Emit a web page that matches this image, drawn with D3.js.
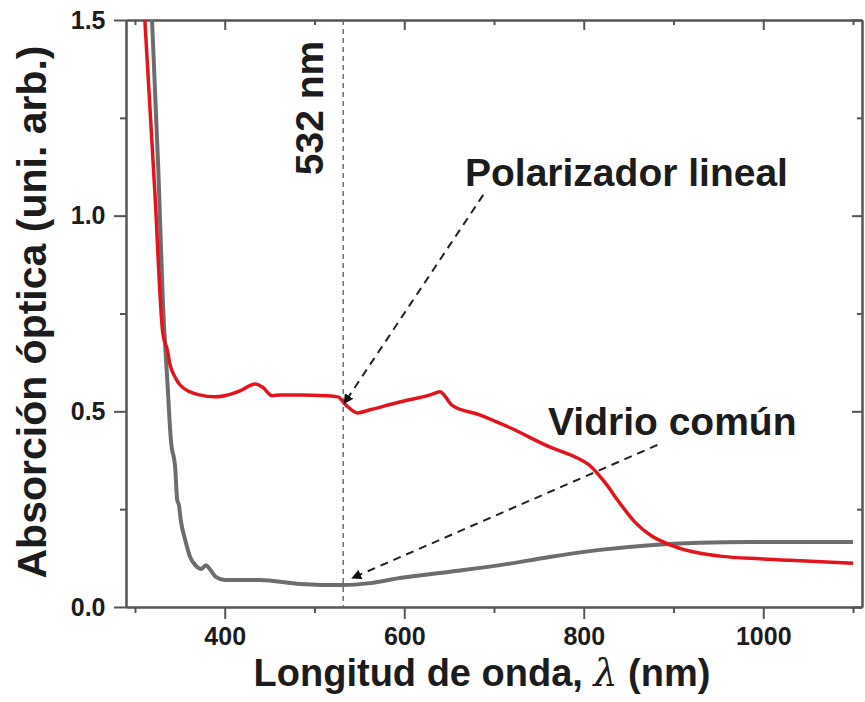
<!DOCTYPE html>
<html>
<head>
<meta charset="utf-8">
<script src="https://cdn.jsdelivr.net/npm/d3@7"></script>
<style>
  body { margin: 0; background: #fff; }
  text { font-family: "Liberation Sans", Arial, sans-serif; font-weight: bold; fill: #1c1c1c; }
</style>
</head>
<body>
<div id="chart"></div>
<script>
var svgWidth = 865;
var svgHeight = 702;

var margin = { top: 20, right: 3, bottom: 95, left: 126 };
var width = svgWidth - margin.left - margin.right;
var height = svgHeight - margin.top - margin.bottom;

// polarizer spectrum (wavelength nm, absorbance)
var polWave = [311, 322, 331, 336, 339, 345, 350, 361, 372, 389, 400, 417, 434, 442, 453, 462, 484, 512, 526, 535, 548, 562, 595, 629, 640, 645, 653, 684, 718, 762, 790, 807, 824, 840, 857, 874, 896, 918, 952, 996, 1041, 1100];
var polAbs = [1.50, 1.066, 0.70, 0.657, 0.62, 0.586, 0.568, 0.55, 0.542, 0.537, 0.54, 0.552, 0.57, 0.562, 0.54, 0.542, 0.542, 0.54, 0.537, 0.516, 0.496, 0.504, 0.524, 0.542, 0.55, 0.54, 0.516, 0.491, 0.458, 0.409, 0.384, 0.361, 0.317, 0.266, 0.217, 0.184, 0.159, 0.143, 0.130, 0.123, 0.118, 0.112];

// common glass spectrum
var glassWave = [319, 326, 331, 336, 340, 345, 347, 349, 351, 356, 361, 368, 374, 379, 384, 390, 400, 439, 484, 532, 562, 595, 651, 707, 762, 818, 874, 929, 985, 1100];
var glassAbs = [1.50, 1.118, 0.785, 0.58, 0.427, 0.35, 0.274, 0.26, 0.222, 0.171, 0.13, 0.105, 0.097, 0.107, 0.095, 0.077, 0.069, 0.069, 0.059, 0.056, 0.061, 0.074, 0.09, 0.107, 0.128, 0.146, 0.158, 0.164, 0.166, 0.166];

var xMajor = [400, 600, 800, 1000];
var xMinor = [300, 500, 700, 900, 1100];
var yMajor = [0.0, 0.5, 1.0, 1.5];
var yMinor = [0.25, 0.75, 1.25];

var laserLine = 532;

var svg = d3.select("#chart")
  .append("svg")
  .attr("width", svgWidth)
  .attr("height", svgHeight);

var chartGroup = svg.append("g")
  .attr("transform", `translate(${margin.left}, ${margin.top})`);

var xScale = d3.scaleLinear().domain([290, 1110]).range([0, width]);
var yScale = d3.scaleLinear().domain([0, 1.5]).range([height, 0]);

svg.append("defs").append("clipPath")
  .attr("id", "plotClip")
  .append("rect")
  .attr("width", width)
  .attr("height", height);

// arrow head for the dashed pointers
svg.select("defs").append("marker")
  .attr("id", "head")
  .attr("viewBox", "0 0 10 10")
  .attr("refX", 9)
  .attr("refY", 5)
  .attr("markerWidth", 5)
  .attr("markerHeight", 5)
  .attr("markerUnits", "strokeWidth")
  .attr("orient", "auto")
  .append("path")
  .attr("d", "M0,0 L10,5 L0,10 z")
  .attr("fill", "#111");

var axisColor = "#555";

// frame: bottom/left ticks outward, top/right ticks inward
function styleAxis(g) {
  g.selectAll("path").attr("stroke", axisColor).attr("stroke-width", 2);
  g.selectAll("line").attr("stroke", axisColor).attr("stroke-width", 2);
  g.selectAll("text").attr("font-size", 25).attr("fill", "#1c1c1c");
}

var bottomMajor = chartGroup.append("g")
  .attr("transform", `translate(0, ${height})`)
  .call(d3.axisBottom(xScale).tickValues(xMajor).tickSize(12).tickSizeOuter(0).tickPadding(8).tickFormat(d3.format("d")));
var bottomMinor = chartGroup.append("g")
  .attr("transform", `translate(0, ${height})`)
  .call(d3.axisBottom(xScale).tickValues(xMinor).tickSize(6).tickSizeOuter(0).tickFormat(""));
var topMajor = chartGroup.append("g")
  .call(d3.axisBottom(xScale).tickValues(xMajor).tickSize(10).tickSizeOuter(0).tickFormat(""));
var topMinor = chartGroup.append("g")
  .call(d3.axisBottom(xScale).tickValues(xMinor).tickSize(5).tickSizeOuter(0).tickFormat(""));

var leftMajor = chartGroup.append("g")
  .call(d3.axisLeft(yScale).tickValues(yMajor).tickSize(12).tickSizeOuter(0).tickPadding(6).tickFormat(d3.format(".1f")));
var leftMinor = chartGroup.append("g")
  .call(d3.axisLeft(yScale).tickValues(yMinor).tickSize(6).tickSizeOuter(0).tickFormat(""));
var rightMajor = chartGroup.append("g")
  .attr("transform", `translate(${width}, 0)`)
  .call(d3.axisLeft(yScale).tickValues(yMajor).tickSize(10).tickSizeOuter(0).tickFormat(""));
var rightMinor = chartGroup.append("g")
  .attr("transform", `translate(${width}, 0)`)
  .call(d3.axisLeft(yScale).tickValues(yMinor).tickSize(5).tickSizeOuter(0).tickFormat(""));

[bottomMajor, bottomMinor, topMajor, topMinor, leftMajor, leftMinor, rightMajor, rightMinor].forEach(styleAxis);
// inner ticks on top/right point into the plot
topMajor.selectAll(".tick line").attr("y2", 10);
rightMajor.selectAll(".tick line").attr("x2", -10);
rightMinor.selectAll(".tick line").attr("x2", -5);
leftMajor.selectAll(".tick text").attr("dx", "-0.1em");

// 532 nm reference line
chartGroup.append("line")
  .attr("x1", xScale(laserLine))
  .attr("x2", xScale(laserLine))
  .attr("y1", 0)
  .attr("y2", height)
  .attr("stroke", "#666")
  .attr("stroke-width", 1.4)
  .attr("stroke-dasharray", "5,4");

var line = d3.line()
  .x(d => xScale(d[0]))
  .y(d => yScale(d[1]))
  .curve(d3.curveMonotoneX);

var curves = chartGroup.append("g").attr("clip-path", "url(#plotClip)");

curves.append("path")
  .datum(d3.zip(glassWave, glassAbs))
  .attr("d", line)
  .attr("fill", "none")
  .attr("stroke", "#6d6d6d")
  .attr("stroke-width", 4);

curves.append("path")
  .datum(d3.zip(polWave, polAbs))
  .attr("d", line)
  .attr("fill", "none")
  .attr("stroke", "#e3141d")
  .attr("stroke-width", 3.5);

// dashed pointers from the labels to the curves
var pointers = [
  { from: [688, 1.053], to: [533, 0.52] },
  { from: [882, 0.414], to: [542, 0.074] }
];

chartGroup.selectAll(".pointer")
  .data(pointers)
  .enter()
  .append("line")
  .attr("class", "pointer")
  .attr("x1", d => xScale(d.from[0]))
  .attr("y1", d => yScale(d.from[1]))
  .attr("x2", d => xScale(d.to[0]))
  .attr("y2", d => yScale(d.to[1]))
  .attr("stroke", "#222")
  .attr("stroke-width", 2)
  .attr("stroke-dasharray", "8,6")
  .attr("marker-end", "url(#head)");

chartGroup.append("text")
  .attr("transform", `translate(${xScale(laserLine) - 20}, 88) rotate(-90)`)
  .attr("text-anchor", "middle")
  .attr("font-size", 39)
  .text("532 nm");

chartGroup.append("text")
  .attr("x", 339)
  .attr("y", 166)
  .attr("font-size", 39)
  .text("Polarizador lineal");

chartGroup.append("text")
  .attr("x", 422)
  .attr("y", 415)
  .attr("font-size", 39)
  .text("Vidrio común");

// axis titles
svg.append("text")
  .attr("transform", "translate(46, 312) rotate(-90)")
  .attr("text-anchor", "middle")
  .attr("font-size", 41)
  .text("Absorción óptica (uni. arb.)");

var xTitle = svg.append("text")
  .attr("x", 482)
  .attr("y", 686)
  .attr("text-anchor", "middle")
  .attr("font-size", 38);
xTitle.append("tspan").text("Longitud de onda, ");
xTitle.append("tspan")
  .attr("font-family", "'DejaVu Serif', serif")
  .attr("font-style", "italic")
  .attr("font-weight", "normal")
  .text("λ");
xTitle.append("tspan").text(" (nm)");
</script>
</body>
</html>
